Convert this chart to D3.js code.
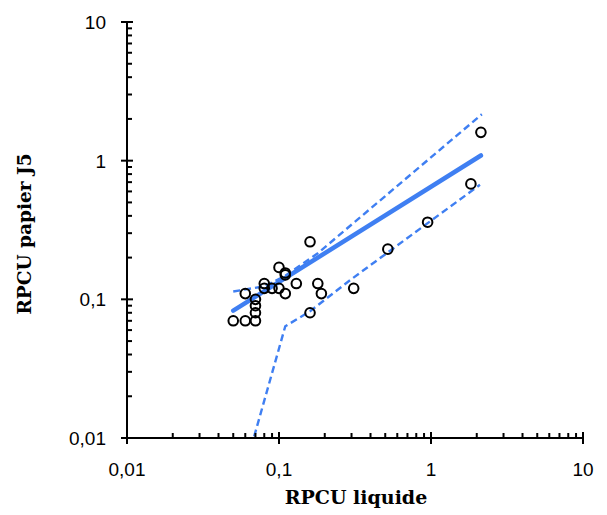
<!DOCTYPE html>
<html><head><meta charset="utf-8">
<script src="https://cdn.jsdelivr.net/npm/d3@7"></script>
<style>body{margin:0;background:#fff}svg{display:block}</style>
</head><body>
<script>
// Data
const liquide = [0.05,0.06,0.07,0.07,0.07,0.07,0.06,0.08,0.08,0.09,0.10,0.10,0.11,0.11,0.11,0.13,0.16,0.16,0.18,0.19,0.31,0.52,0.95,1.83,2.13];
const papier  = [0.07,0.07,0.07,0.08,0.09,0.10,0.11,0.12,0.13,0.12,0.12,0.17,0.15,0.155,0.11,0.13,0.26,0.08,0.13,0.11,0.12,0.23,0.36,0.68,1.6];
const fitX = [0.05, 2.13];
const fitY = [0.083, 1.09];
const upperX = [0.05, 0.08, 0.11, 0.18, 2.16];
const upperY = [0.114, 0.124, 0.148, 0.215, 2.16];
const lowerX = [0.05, 0.11, 0.16, 0.30, 2.1];
const lowerY = [0.003, 0.064, 0.082, 0.14, 0.67];
const ticks = [0.01, 0.1, 1, 10];
const tickLabels = ["0,01", "0,1", "1", "10"];

const W = 607, H = 515;
const svg = d3.select("body").append("svg").attr("width", W).attr("height", H);
const x = d3.scaleLog().domain([0.01, 10]).range([127, 583]);
const y = d3.scaleLog().domain([0.01, 10]).range([438, 22]);
const blue = "#3f7ff2";

svg.append("clipPath").attr("id", "clip").append("rect")
  .attr("x", x(0.01)).attr("y", y(10)).attr("width", x(10) - x(0.01)).attr("height", y(0.01) - y(10));

const minors = [];
for (let d = 0.01; d < 10; d *= 10) for (let k = 2; k <= 9; k++) minors.push(d * k);

const line = d3.line().x(d => x(d[0])).y(d => y(d[1]));
const plot = svg.append("g").attr("clip-path", "url(#clip)");

plot.append("path").datum(d3.zip(upperX, upperY)).attr("d", line)
  .attr("fill", "none").attr("stroke", blue).attr("stroke-width", 2.4).attr("stroke-dasharray", "7,4");
plot.append("path").datum(d3.zip(lowerX, lowerY)).attr("d", line)
  .attr("fill", "none").attr("stroke", blue).attr("stroke-width", 2.4).attr("stroke-dasharray", "7,4");
plot.append("path").datum(d3.zip(fitX, fitY)).attr("d", line)
  .attr("fill", "none").attr("stroke", blue).attr("stroke-width", 4.5).attr("stroke-linecap", "round");

svg.append("g").selectAll("circle").data(d3.zip(liquide, papier)).join("circle")
  .attr("cx", d => x(d[0])).attr("cy", d => y(d[1])).attr("r", 4.8)
  .attr("fill", "none").attr("stroke", "#000").attr("stroke-width", 2);

// Axes
const ax = svg.append("g");
ax.append("line").attr("x1", x(0.01)).attr("x2", x(10)).attr("y1", y(0.01)).attr("y2", y(0.01)).attr("stroke", "#000").attr("stroke-width", 2);
ax.append("line").attr("x1", x(0.01)).attr("x2", x(0.01)).attr("y1", y(0.01)).attr("y2", y(10)).attr("stroke", "#000").attr("stroke-width", 2);
ax.selectAll(".xmaj").data(ticks).join("line").attr("x1", d => x(d)).attr("x2", d => x(d))
  .attr("y1", y(0.01) - 6).attr("y2", y(0.01) + 6).attr("stroke", "#000").attr("stroke-width", 2);
ax.selectAll(".xmin").data(minors).join("line").attr("x1", d => x(d)).attr("x2", d => x(d))
  .attr("y1", y(0.01) - 5).attr("y2", y(0.01)).attr("stroke", "#000").attr("stroke-width", 2);
ax.selectAll(".ymaj").data(ticks).join("line").attr("y1", d => y(d)).attr("y2", d => y(d))
  .attr("x1", x(0.01) - 6).attr("x2", x(0.01) + 6).attr("stroke", "#000").attr("stroke-width", 2);
ax.selectAll(".ymin").data(minors).join("line").attr("y1", d => y(d)).attr("y2", d => y(d))
  .attr("x1", x(0.01)).attr("x2", x(0.01) + 5).attr("stroke", "#000").attr("stroke-width", 2);

const lab = svg.append("g").attr("font-family", "Liberation Sans, Arial, sans-serif").attr("font-size", 19).attr("fill", "#000");
lab.selectAll(".xl").data(ticks).join("text").attr("x", d => x(d)).attr("y", 476)
  .attr("text-anchor", "middle").text((d, i) => tickLabels[i]);
lab.selectAll(".yl").data(ticks).join("text").attr("x", 106).attr("y", d => y(d) + 7)
  .attr("text-anchor", "end").text((d, i) => tickLabels[i]);

svg.append("text").attr("x", 356).attr("y", 504).attr("text-anchor", "middle")
  .attr("font-family", "DejaVu Serif, serif").attr("font-weight", "bold").attr("font-size", 19).text("RPCU liquide");
svg.append("text").attr("transform", "translate(31,234) rotate(-90)").attr("text-anchor", "middle")
  .attr("font-family", "DejaVu Serif, serif").attr("font-weight", "bold").attr("font-size", 18.5).text("RPCU papier J5");
</script>
</body></html>
